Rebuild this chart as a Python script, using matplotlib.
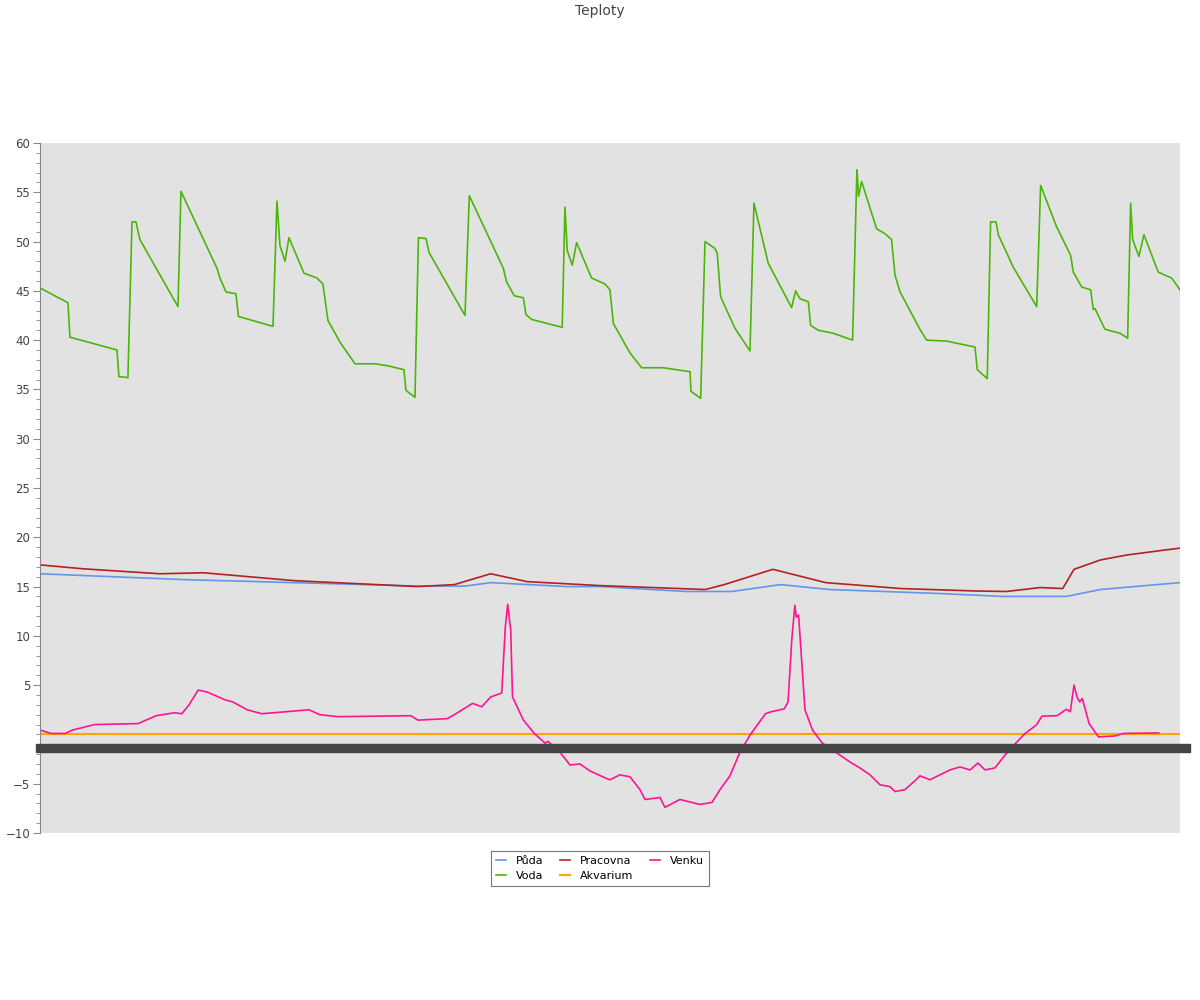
import matplotlib
matplotlib.use("Agg")
import matplotlib.pyplot as plt
from matplotlib.patches import Rectangle
from matplotlib.ticker import MultipleLocator, FixedLocator
import matplotlib.transforms as mtransforms

# cas v hodinach od zacatku grafu
puda_t = [0, 6.06, 12.12, 21.21, 31.5, 35.44, 37.56, 43.92, 46.67, 53.88, 57.64, 61.72,
          65.79, 74.88, 80.22, 82.72, 85.54, 88.37, 95.0]
puda_v = [16.3, 16.0, 15.7, 15.4, 15.05, 15.05, 15.4, 15.0, 15.0, 14.5, 14.5, 15.2,
          14.7, 14.3, 14.0, 14.0, 14.0, 14.7, 15.4]

voda_t = [0, 2.33, 2.5, 6.42, 6.58, 7.33, 7.67, 8.0, 8.33, 11.5, 11.75, 14.75, 15.0, 15.5,
          16.33, 16.54, 19.42, 19.75, 20.0, 20.42, 20.75, 22.0, 23.08, 23.58, 24.0, 25.0,
          26.25, 27.92, 29.0, 30.33, 30.5, 31.25, 31.54, 32.17, 32.42, 35.42, 35.78, 38.61,
          38.89, 39.53, 40.28, 40.5, 40.97, 43.52, 43.75, 43.94, 44.36, 44.72, 45.97, 47.08,
          47.5, 47.78, 49.17, 50.14, 51.94, 54.17, 54.25, 55.06, 55.42, 56.25, 56.44, 56.72,
          57.92, 59.17, 59.5, 60.69, 62.64, 62.97, 63.33, 64.03, 64.22, 64.86, 66.11, 67.72,
          68.08, 68.22, 68.47, 69.72, 70.42, 70.97, 71.25, 71.67, 73.33, 73.89, 75.56, 77.92,
          78.11, 78.94, 79.22, 79.67, 79.86, 81.11, 83.06, 83.39, 84.72, 85.89, 86.11, 86.81,
          87.56, 87.78, 87.92, 88.75, 90.0, 90.64, 90.89, 91.06, 91.58, 92.0, 93.19, 94.31, 95.0]
voda_v = [45.3, 43.8, 40.3, 39.0, 36.3, 36.2, 52.0, 52.0, 50.2, 43.4, 55.1, 47.3, 46.3, 44.9,
          44.7, 42.4, 41.4, 54.1, 49.6, 48.0, 50.4, 46.8, 46.3, 45.7, 42.0, 39.8,
          37.6, 37.6, 37.4, 37.0, 34.9, 34.2, 50.4, 50.3, 48.9, 42.5, 54.65, 47.3,
          45.9, 44.5, 44.3, 42.6, 42.1, 41.3, 53.5, 49.1, 47.6, 49.9, 46.3, 45.7,
          45.1, 41.7, 38.7, 37.2, 37.2, 36.8, 34.8, 34.1, 50.0, 49.3, 48.8, 44.4,
          41.2, 38.9, 53.9, 47.8, 43.3, 45.0, 44.2, 43.9, 41.5, 41.0, 40.7, 40.0,
          57.3, 54.6, 56.1, 51.3, 50.8, 50.2, 46.6, 44.9, 41.1, 40.0, 39.9, 39.3,
          37.0, 36.1, 52.0, 52.0, 50.7, 47.4, 43.4, 55.7, 51.5, 48.6, 46.9, 45.4,
          45.1, 43.1, 43.2, 41.1, 40.7, 40.2, 53.9, 50.2, 48.5, 50.7, 46.9, 46.3, 45.1]

pracovna_t = [0, 3.63, 10.0, 13.63, 21.21, 31.5, 34.53, 37.56, 40.59, 46.67, 55.44, 57.02,
              61.08, 65.48, 71.75, 78.02, 80.53, 83.35, 85.23, 86.17, 88.37, 90.56, 93.69, 95.0]
pracovna_v = [17.2, 16.8, 16.3, 16.4, 15.6, 15.0, 15.2, 16.3, 15.5, 15.1, 14.7, 15.2,
              16.75, 15.4, 14.8, 14.55, 14.5, 14.9, 14.8, 16.75, 17.7, 18.2, 18.7, 18.9]

akvarium_t = [0, 95.0]
akvarium_v = [0, 0]

venku_t = [0, 0.91, 2.12, 2.73, 4.54, 8.18, 9.69, 11.21, 11.82, 12.42, 13.18, 13.93, 15.45,
           16.06, 17.27, 18.48, 22.42, 23.32, 24.84, 30.9, 31.5, 33.93, 34.53, 36.05, 36.81,
           37.56, 38.48, 38.78, 38.98, 39.23, 39.38, 40.29, 41.2, 42.11, 42.33, 43.33, 44.17,
           45.0, 45.83, 47.08, 47.5, 48.33, 49.17, 50.0, 50.42, 51.67, 52.08, 53.33, 55.0,
           56.0, 56.67, 57.5, 58.33, 59.21, 60.46, 60.93, 62.03, 62.34, 62.66, 62.91, 63.03,
           63.22, 63.75, 64.38, 65.17, 66.67, 67.5, 68.33, 69.17, 70.0, 70.83, 71.25, 72.08,
           72.92, 73.33, 74.17, 75.0, 75.83, 76.67, 77.5, 78.17, 78.75, 79.58, 80.42, 81.31,
           82.09, 83.03, 83.5, 84.76, 85.54, 85.86, 86.17, 86.42, 86.64, 86.86, 87.43, 88.21,
           89.62, 90.25, 93.23]
venku_v = [0.45, 0.1, 0.1, 0.45, 1.0, 1.1, 1.9, 2.2, 2.1, 3.0, 4.5, 4.3, 3.5,
           3.3, 2.5, 2.1, 2.5, 2.0, 1.8, 1.9, 1.45, 1.6, 2.0, 3.15, 2.8,
           3.8, 4.2, 10.9, 13.2, 10.6, 3.8, 1.45, 0.1, -0.9, -0.7, -1.8, -3.1,
           -3.0, -3.7, -4.4, -4.6, -4.1, -4.3, -5.6, -6.6, -6.4, -7.4, -6.6, -7.1,
           -6.9, -5.6, -4.2, -1.8, 0.0, 2.1, 2.3, 2.6, 3.3, 9.75, 13.1, 11.9,
           12.1, 2.5, 0.45, -0.85, -2.1, -2.8, -3.4, -4.1, -5.1, -5.3, -5.8, -5.6,
           -4.7, -4.2, -4.6, -4.1, -3.6, -3.3, -3.6, -2.9, -3.6, -3.4, -2.1, -0.9,
           0.1, 0.95, 1.85, 1.9, 2.55, 2.3, 5.0, 3.8, 3.3, 3.65, 1.1, -0.25,
           -0.15, 0.1, 0.15]

fig = plt.figure(figsize=(12, 10), dpi=100)
ax = fig.add_axes([0.0333, 0.167, 0.95, 0.69])
ax.set_facecolor("#e2e2e2")

ax.plot(puda_t, puda_v, color="#6495ed", lw=1.2, label="Půda")
ax.plot(voda_t, voda_v, color="#4cb50a", lw=1.2, label="Voda")
ax.plot(pracovna_t, pracovna_v, color="#b22222", lw=1.2, label="Pracovna")
ax.plot(akvarium_t, akvarium_v, color="#ffa500", lw=1.5, label="Akvarium")
ax.plot(venku_t, venku_v, color="#ff1493", lw=1.2, label="Venku")

ax.set_xlim(0, 95)
ax.set_ylim(-10, 60)

# popisky casu se prekryvaji do tmaveho pruhu
trans = mtransforms.blended_transform_factory(ax.transAxes, ax.transData)
ax.add_patch(Rectangle((-0.0035, -1.78), 1.0123, 0.81, transform=trans,
                       color="#444444", clip_on=False, zorder=5))

ax.yaxis.set_major_locator(FixedLocator([-10, -5, 5, 10, 15, 20, 25, 30, 35, 40, 45, 50, 55, 60]))
ax.yaxis.set_minor_locator(MultipleLocator(1))
ax.tick_params(axis="y", which="major", length=5, color="#888888", labelsize=8.5,
               labelcolor="#444444", pad=2)
ax.tick_params(axis="y", which="minor", length=3, color="#888888")
ax.set_xticks([])
for s in ["top", "right", "bottom"]:
    ax.spines[s].set_visible(False)
ax.spines["left"].set_color("#888888")

fig.text(0.5, 0.996, "Teploty", ha="center", va="top", fontsize=10, color="#444444")

leg = fig.legend(loc="upper center", bbox_to_anchor=(0.5, 0.155), ncol=3, fontsize=8,
                 fancybox=False, edgecolor="#777777", handlelength=0.9, handletextpad=0.9,
                 columnspacing=1.5, borderpad=0.45, labelspacing=0.45, framealpha=1)
leg.get_frame().set_linewidth(0.8)

plt.savefig("out.png")
